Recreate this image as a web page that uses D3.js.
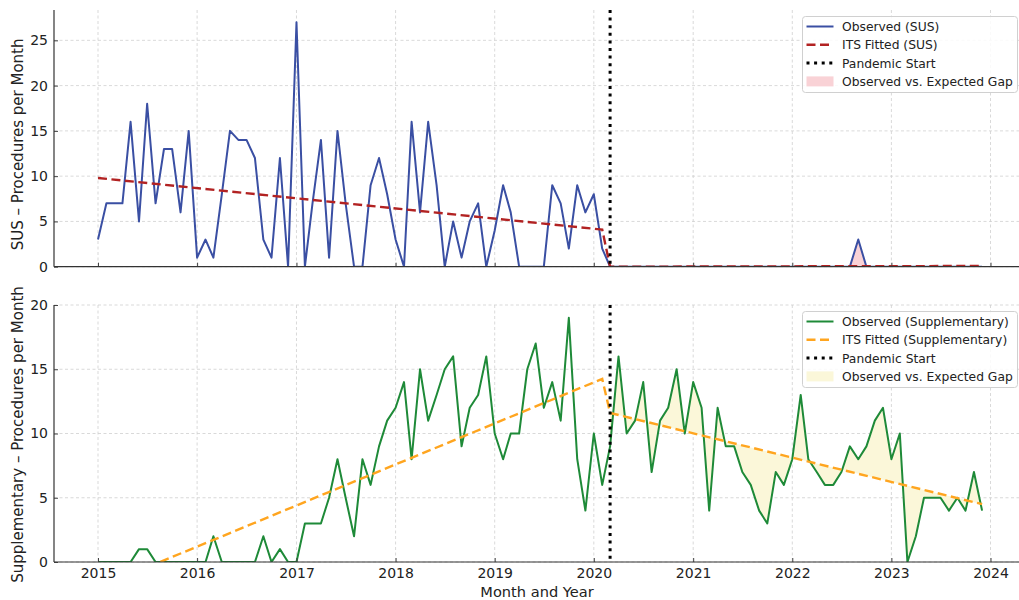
<!DOCTYPE html>
<html>
<head>
<meta charset="utf-8">
<script src="https://cdn.jsdelivr.net/npm/d3@7"></script>
<style>
  body { margin: 0; background: #fff; }
  svg { font-family: "DejaVu Sans", sans-serif; }
</style>
</head>
<body>
<svg id="chart" width="1019" height="600"></svg>
<script>
// monthly counts, Jan 2015 .. Dec 2023
var susObserved = [
  3, 7, 7, 7, 16, 5, 18, 7, 13, 13, 6, 15,
  1, 3, 1, 8, 15, 14, 14, 12, 3, 1, 12, 0,
  27, 0, 7, 14, 1, 15, 7, 0, 0, 9, 12, 8,
  3, 0, 16, 6, 16, 9, 0, 5, 1, 5, 7, 0,
  4, 9, 6, 0, 0, 0, 0, 9, 7, 2, 9, 6,
  8, 2, 0, 0, 0, 0, 0, 0, 0, 0, 0, 0,
  0, 0, 0, 0, 0, 0, 0, 0, 0, 0, 0, 0,
  0, 0, 0, 0, 0, 0, 0, 0, 3, 0, 0, 0,
  0, 0, 0, 0, 0, 0, 0, 0, 0, 0, 0, 0
];
var suppObserved = [
  0, 0, 0, 0, 0, 1, 1, 0, 0, 0, 0, 0,
  0, 0, 2, 0, 0, 0, 0, 0, 2, 0, 1, 0,
  0, 3, 3, 3, 5, 8, 5, 2, 8, 6, 9, 11,
  12, 14, 8, 15, 11, 13, 15, 16, 9, 12, 13, 16,
  10, 8, 10, 10, 15, 17, 12, 14, 11, 19, 8, 4,
  10, 6, 9, 16, 10, 11, 14, 7, 11, 12, 15, 10,
  14, 12, 4, 12, 9, 9, 7, 6, 4, 3, 7, 6,
  8, 13, 8, 7, 6, 6, 7, 9, 8, 9, 11, 12,
  8, 10, 0, 2, 5, 5, 5, 4, 5, 4, 7, 4
];
// ITS fitted segments (pre / post), as [month, value] end points
var susFitted = [["2015-01", 9.8], ["2020-02", 4.1], ["2020-03", 0.0], ["2023-12", 0.08]];
var suppFitted = [["2015-01", -2.0], ["2020-02", 14.25], ["2020-03", 11.6], ["2023-12", 4.5]];
var pandemicStart = "2020-03";
var yearTicks = [2015, 2016, 2017, 2018, 2019, 2020, 2021, 2022, 2023, 2024];
var susTicks = [0, 5, 10, 15, 20, 25];
var suppTicks = [0, 5, 10, 15, 20];

var parseMonth = d3.timeParse("%Y-%m");
var months = d3.range(susObserved.length).map(function(i){ return new Date(2015, i, 1); });

var svg = d3.select("#chart");
var left = 54, right = 1019;

var x = d3.scaleTime()
  .domain([new Date(2015, 0, 1), new Date(2024, 0, 1)])
  .range([98, 990.5]);

function fittedAt(fit, date) {
  // value of the straight fitted segment at a given month
  var pts = fit.map(function(p){ return [parseMonth(p[0]), p[1]]; });
  for (var i = 0; i < pts.length - 1; i += 2) {
    if (date >= pts[i][0] && date <= pts[i + 1][0]) {
      var t = (date - pts[i][0]) / (pts[i + 1][0] - pts[i][0]);
      return pts[i][1] + t * (pts[i + 1][1] - pts[i][1]);
    }
  }
  return null;
}

function drawPanel(opt) {
  var g = svg.append("g");
  var y = d3.scaleLinear().domain(opt.ydomain).range([opt.bottom, opt.top]);
  var clipId = "clip" + opt.name;
  svg.append("clipPath").attr("id", clipId)
    .append("rect").attr("x", left).attr("y", opt.top)
    .attr("width", right - left).attr("height", opt.bottom - opt.top);

  // grid
  var grid = g.append("g").attr("stroke", "#cfcfcf").attr("stroke-width", 0.8)
    .attr("stroke-dasharray", "3,2.5");
  grid.selectAll(".gx").data(yearTicks).enter().append("line")
    .attr("x1", function(d){ return x(new Date(d, 0, 1)); })
    .attr("x2", function(d){ return x(new Date(d, 0, 1)); })
    .attr("y1", opt.top).attr("y2", opt.bottom);
  grid.selectAll(".gy").data(opt.ticks).enter().append("line")
    .attr("x1", left).attr("x2", right)
    .attr("y1", function(d){ return y(d); }).attr("y2", function(d){ return y(d); });

  var plot = g.append("g").attr("clip-path", "url(#" + clipId + ")");

  // gap fill, from pandemic start on
  var pStart = parseMonth(pandemicStart);
  var post = months.map(function(d, i){ return {date: d, obs: opt.observed[i]}; })
    .filter(function(d){ return d.date >= pStart; });
  var area = d3.area()
    .x(function(d){ return x(d.date); })
    .y0(function(d){ return y(fittedAt(opt.fitted, d.date)); })
    .y1(function(d){ return y(d.obs); });
  plot.append("path").datum(post).attr("d", area)
    .attr("fill", opt.fillColor).attr("stroke", "none");

  var line = d3.line()
    .x(function(d, i){ return x(months[i]); })
    .y(function(d){ return y(d); });
  plot.append("path").datum(opt.observed).attr("d", line)
    .attr("fill", "none").attr("stroke", opt.obsColor).attr("stroke-width", 2)
    .attr("stroke-linejoin", "round");

  var fitLine = d3.line()
    .x(function(d){ return x(parseMonth(d[0])); })
    .y(function(d){ return y(d[1]); });
  plot.append("path").datum(opt.fitted).attr("d", fitLine)
    .attr("fill", "none").attr("stroke", opt.fitColor).attr("stroke-width", 2.4)
    .attr("stroke-dasharray", "9,4.5");

  plot.append("line")
    .attr("x1", x(pStart)).attr("x2", x(pStart))
    .attr("y1", opt.top).attr("y2", opt.bottom)
    .attr("stroke", "#000").attr("stroke-width", 3).attr("stroke-dasharray", "3,4.6");

  // axes
  var yAxis = d3.axisLeft(y).tickValues(opt.ticks).tickSizeInner(-4).tickSizeOuter(0).tickPadding(6);
  var ya = g.append("g").attr("transform", "translate(" + left + ",0)").call(yAxis);
  ya.select(".domain").remove();
  ya.selectAll("line").attr("stroke", "#444");
  ya.selectAll("text").attr("font-size", 14).attr("fill", "#222")
    .attr("font-family", "DejaVu Sans");

  var xAxis = d3.axisBottom(x).tickValues(yearTicks.map(function(d){ return new Date(d, 0, 1); }))
    .tickSizeInner(-4).tickSizeOuter(0).tickPadding(6)
    .tickFormat(opt.showX ? d3.timeFormat("%Y") : "");
  var xa = g.append("g").attr("transform", "translate(0," + opt.bottom + ")").call(xAxis);
  xa.select(".domain").remove();
  xa.selectAll("line").attr("stroke", "#444");
  xa.selectAll("text").attr("font-size", 14).attr("fill", "#222")
    .attr("font-family", "DejaVu Sans");

  // spines
  g.append("line").attr("x1", left).attr("x2", left).attr("y1", opt.top).attr("y2", opt.bottom)
    .attr("stroke", "#333").attr("stroke-width", 1.2);
  g.append("line").attr("x1", left).attr("x2", right).attr("y1", opt.bottom).attr("y2", opt.bottom)
    .attr("stroke", "#333").attr("stroke-width", 1.2);

  g.append("text")
    .attr("transform", "translate(23," + ((opt.top + opt.bottom) / 2 + opt.labelShift) + ") rotate(-90)")
    .attr("text-anchor", "middle").attr("font-size", 15).attr("fill", "#222")
    .text(opt.ylabel);

  // legend
  var lg = g.append("g").attr("transform", "translate(802.5," + opt.legendTop + ")");
  lg.append("rect").attr("width", 215).attr("height", 76).attr("rx", 3)
    .attr("fill", "#fff").attr("fill-opacity", 0.85).attr("stroke", "#d0d0d0");
  var items = [
    {label: opt.legend[0], type: "line", color: opt.obsColor, dash: null, w: 2},
    {label: opt.legend[1], type: "line", color: opt.fitColor, dash: "9,4.5", w: 2.4},
    {label: "Pandemic Start", type: "line", color: "#000", dash: "3,4.6", w: 3},
    {label: "Observed vs. Expected Gap", type: "patch", color: opt.fillColor}
  ];
  items.forEach(function(it, i) {
    var cy = 10 + i * 18.3;
    if (it.type === "line") {
      lg.append("line").attr("x1", 4).attr("x2", 31).attr("y1", cy).attr("y2", cy)
        .attr("stroke", it.color).attr("stroke-width", it.w)
        .attr("stroke-dasharray", it.dash);
    } else {
      lg.append("rect").attr("x", 4).attr("y", cy - 5).attr("width", 27).attr("height", 10)
        .attr("fill", it.color);
    }
    lg.append("text").attr("x", 39.5).attr("y", cy).attr("dy", "0.36em")
      .attr("font-size", 12.3).attr("fill", "#222").text(it.label);
  });
}

drawPanel({
  name: "sus", top: 10, bottom: 266.7, ydomain: [0, 28.35], ticks: susTicks,
  observed: susObserved, fitted: susFitted,
  obsColor: "#3a4fa3", fitColor: "#b22222", fillColor: "#f9d2d6",
  ylabel: "SUS \u2013 Procedures per Month", showX: false, legendTop: 16.5, labelShift: 6,
  legend: ["Observed (SUS)", "ITS Fitted (SUS)"]
});
drawPanel({
  name: "supp", top: 305, bottom: 562, ydomain: [0, 20], ticks: suppTicks,
  observed: suppObserved, fitted: suppFitted,
  obsColor: "#1e8a38", fitColor: "#ffa51f", fillColor: "#fbf7d9",
  ylabel: "Supplementary \u2013 Procedures per Month", showX: true, legendTop: 311.5, labelShift: 1,
  legend: ["Observed (Supplementary)", "ITS Fitted (Supplementary)"]
});

svg.append("text").attr("x", 537).attr("y", 597).attr("text-anchor", "middle")
  .attr("font-size", 14.6).attr("fill", "#222").text("Month and Year");
</script>
</body>
</html>
